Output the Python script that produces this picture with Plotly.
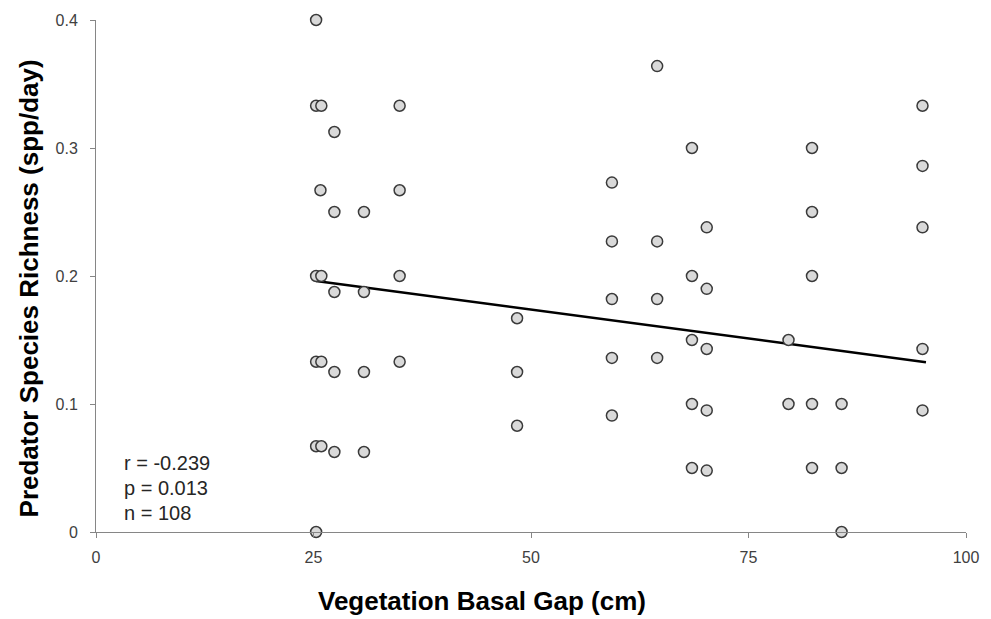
import plotly.graph_objects as go

# ---- data ----
col_x = [25.3, 25.9, 25.8, 27.4, 30.8, 34.9, 48.4, 59.3, 64.5, 68.5, 70.2, 79.6, 82.3, 85.7, 95.0]
col_y = [
    [0.4, 0.333, 0.2, 0.133, 0.067, 0.0],
    [0.333, 0.2, 0.133, 0.067],
    [0.267],
    [0.3125, 0.25, 0.1875, 0.125, 0.0625],
    [0.25, 0.1875, 0.125, 0.0625],
    [0.333, 0.267, 0.2, 0.133],
    [0.167, 0.125, 0.083],
    [0.273, 0.227, 0.182, 0.136, 0.091],
    [0.364, 0.227, 0.182, 0.136],
    [0.3, 0.2, 0.15, 0.1, 0.05],
    [0.238, 0.19, 0.143, 0.095, 0.048],
    [0.15, 0.1],
    [0.3, 0.25, 0.2, 0.1, 0.05],
    [0.1, 0.05, 0.0],
    [0.333, 0.286, 0.238, 0.143, 0.095],
]
trend_x = [25.3, 95.4]
trend_y = [0.1961, 0.1327]

x_ticks = [0, 25, 50, 75, 100]
y_ticks = [0, 0.1, 0.2, 0.3, 0.4]
y_tick_text = ["0", "0.1", "0.2", "0.3", "0.4"]
stats_text = ["r = -0.239", "p = 0.013", "n = 108"]

x_title = "Vegetation Basal Gap (cm)"
y_title = "Predator Species Richness (spp/day)"

# ---- build ----
xs, ys = [], []
for cx, vals in zip(col_x, col_y):
    for v in vals:
        xs.append(cx)
        ys.append(v)

FONT = "Liberation Sans, Arial, sans-serif"
AXC = "#868686"

fig = go.Figure()
fig.add_trace(go.Scatter(
    x=trend_x, y=trend_y, mode="lines",
    line=dict(color="black", width=2.5), hoverinfo="skip", showlegend=False,
))
fig.add_trace(go.Scatter(
    x=xs, y=ys, mode="markers", cliponaxis=False,
    marker=dict(size=11, color="#d9d9d9", line=dict(color="#3a3a3a", width=1.5)),
    showlegend=False,
))

fig.update_layout(
    width=991, height=619,
    margin=dict(l=96, r=19, t=19, b=87),
    paper_bgcolor="white", plot_bgcolor="white",
    font=dict(family=FONT, color="#404040", size=16),
    xaxis=dict(
        range=[0, 100], tickvals=x_ticks, ticks="outside", ticklen=5,
        tickcolor=AXC, showline=True, linecolor=AXC, linewidth=1,
        showgrid=False, zeroline=False, ticklabelstandoff=6,
        tickfont=dict(size=16, color="#404040"),
    ),
    yaxis=dict(
        range=[0, 0.4], tickvals=y_ticks, ticktext=y_tick_text, ticks="outside",
        ticklen=5, tickcolor=AXC, showline=True, linecolor=AXC, linewidth=1,
        showgrid=False, zeroline=False, ticklabelstandoff=9,
        tickfont=dict(size=16, color="#404040"),
    ),
)

ann = []
ann.append(dict(text=f"<b>{x_title}</b>", xref="paper", yref="paper",
                x=(485 - 96) / 876, y=(532 - 601) / 513, showarrow=False,
                xanchor="center", yanchor="middle",
                font=dict(family=FONT, size=26, color="black")))
ann.append(dict(text=f"<b>{y_title}</b>", xref="paper", yref="paper",
                x=(29 - 96) / 876, y=(532 - 287.5) / 513, showarrow=False,
                xanchor="center", yanchor="middle", textangle=-90,
                font=dict(family=FONT, size=26, color="black")))
for i, t in enumerate(stats_text):
    ann.append(dict(text=t, xref="paper", yref="paper",
                    x=(122 - 96) / 876, y=(532 - (463 + 25 * i)) / 513,
                    showarrow=False, xanchor="left", yanchor="middle",
                    font=dict(family=FONT, size=20, color="#262626")))
fig.update_layout(annotations=ann)

fig.write_html("out.html")
